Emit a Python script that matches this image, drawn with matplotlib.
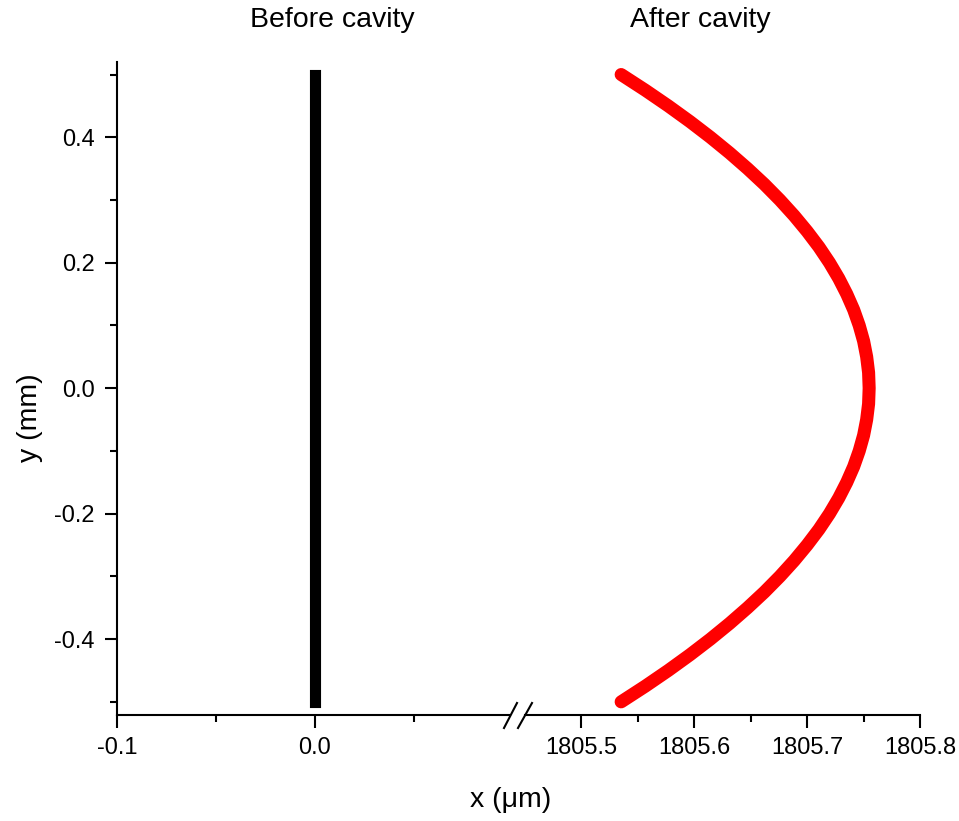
import matplotlib
matplotlib.use('Agg')
import matplotlib.pyplot as plt
from matplotlib.lines import Line2D
from matplotlib.ticker import MultipleLocator, FixedLocator

plt.rcParams['font.family'] = ['Liberation Sans', 'DejaVu Sans']

# ---- data ----
before_x = [0.0, 0.0]
before_y = [-0.5, 0.5]

after_y = [-0.500, -0.475, -0.450, -0.425, -0.400, -0.375, -0.350, -0.325,
           -0.300, -0.275, -0.250, -0.225, -0.200, -0.175, -0.150, -0.125,
           -0.100, -0.075, -0.050, -0.025, 0.000, 0.025, 0.050, 0.075, 0.100,
           0.125, 0.150, 0.175, 0.200, 0.225, 0.250, 0.275, 0.300, 0.325,
           0.350, 0.375, 0.400, 0.425, 0.450, 0.475, 0.500]
after_x = [1805.5355, 1805.5569, 1805.5772, 1805.5964, 1805.6145, 1805.6315,
           1805.6474, 1805.6623, 1805.6760, 1805.6886, 1805.7001, 1805.7106,
           1805.7199, 1805.7281, 1805.7352, 1805.7413, 1805.7462, 1805.7501,
           1805.7528, 1805.7545, 1805.7550, 1805.7545, 1805.7528, 1805.7501,
           1805.7462, 1805.7413, 1805.7352, 1805.7281, 1805.7199, 1805.7106,
           1805.7001, 1805.6886, 1805.6760, 1805.6623, 1805.6474, 1805.6315,
           1805.6145, 1805.5964, 1805.5772, 1805.5569, 1805.5355]

left_xticks = [-0.1, 0.0]
left_xlabels = ['-0.1', '0.0']
right_xticks = [1805.5, 1805.6, 1805.7, 1805.8]
right_xlabels = ['1805.5', '1805.6', '1805.7', '1805.8']
yticks = [-0.4, -0.2, 0.0, 0.2, 0.4]
ylabels = ['-0.4', '-0.2', '0.0', '0.2', '0.4']

title_left = 'Before cavity'
title_right = 'After cavity'
xlabel = 'x (\u03bcm)'
ylabel = 'y (mm)'

# ---- layout ----
W, H = 959, 821
fig = plt.figure(figsize=(W / 100, H / 100), dpi=100)


def fx(px):
    return px / W


def fy(py):
    return 1 - py / H


axL = fig.add_axes([fx(117), fy(715), fx(510) - fx(117), fy(62) - fy(715)])
axR = fig.add_axes([fx(525), fy(715), fx(920) - fx(525), fy(62) - fy(715)])

lw_axis = 1.5
for ax in (axL, axR):
    ax.set_ylim(-0.521, 0.520)
    ax.spines['top'].set_visible(False)
    ax.spines['right'].set_visible(False)
    ax.spines['bottom'].set_linewidth(lw_axis)
    ax.spines['left'].set_linewidth(lw_axis)
    ax.tick_params(axis='both', which='major', length=9, width=lw_axis,
                   labelsize=17, direction='out', pad=7)
    ax.tick_params(axis='both', which='minor', length=5, width=lw_axis,
                   direction='out')
    ax.patch.set_alpha(0)

axL.set_xlim(-0.1, 0.0988)
axR.set_xlim(1805.4504, 1805.8)

axL.xaxis.set_major_locator(FixedLocator(left_xticks))
axL.set_xticklabels(left_xlabels)
axL.xaxis.set_minor_locator(MultipleLocator(0.05))
axR.xaxis.set_major_locator(FixedLocator(right_xticks))
axR.set_xticklabels(right_xlabels)
axR.xaxis.set_minor_locator(FixedLocator([1805.55, 1805.65, 1805.75]))

axL.yaxis.set_major_locator(FixedLocator(yticks))
axL.set_yticklabels(ylabels)
axL.yaxis.set_minor_locator(FixedLocator([-0.5, -0.3, -0.1, 0.1, 0.3, 0.5]))

axR.spines['left'].set_visible(False)
axR.tick_params(axis='y', which='both', left=False, labelleft=False)

# ---- data marks ----
axL.plot(before_x, before_y, color='black', lw=8.0, solid_capstyle='projecting')
axR.plot(after_x, after_y, color='#ff0000', lw=9.4, solid_capstyle='round',
         solid_joinstyle='round')

# ---- break marks ----
for (x0, x1) in ((504, 517), (518, 532)):
    fig.add_artist(Line2D([fx(x0), fx(x1)], [fy(728), fy(703)],
                          transform=fig.transFigure, color='black', lw=lw_axis))

# ---- texts ----
fig.text(fx(332), fy(20), title_left, ha='center', va='center', fontsize=20.5)
fig.text(fx(700), fy(20), title_right, ha='center', va='center', fontsize=20.5)
fig.text(fx(511), fy(800), xlabel, ha='center', va='center', fontsize=20.5)
fig.text(fx(30), fy(418), ylabel, ha='center', va='center', fontsize=20.5,
         rotation=90)

fig.savefig('out.png', dpi=100)
